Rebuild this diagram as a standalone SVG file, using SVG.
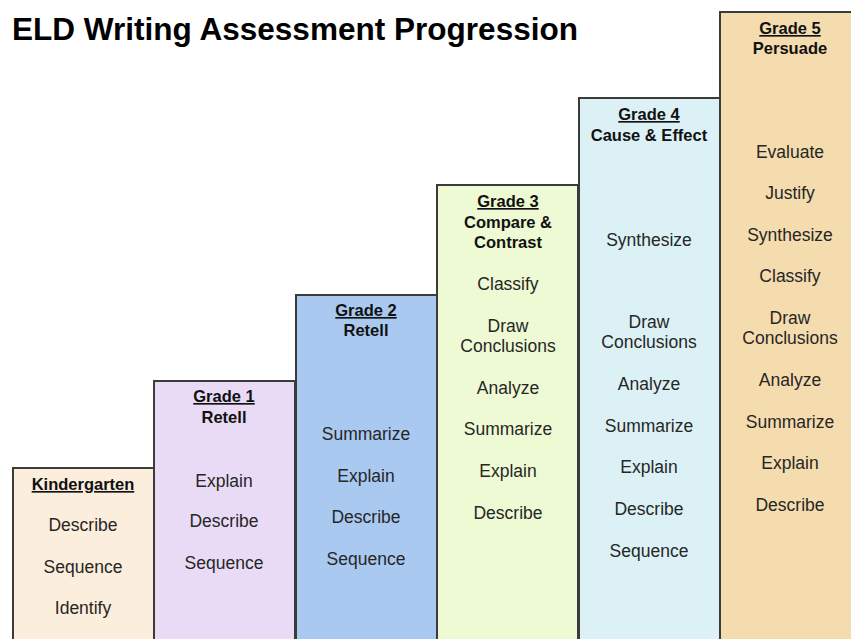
<svg xmlns="http://www.w3.org/2000/svg" width="851" height="639" viewBox="0 0 851 639">
<style>
.box{stroke:#3b3b3b;stroke-width:2}
text{font-family:"Liberation Sans",Arial,sans-serif;fill:#262626;text-anchor:middle}
.h{font-weight:bold;font-size:16.5px;fill:#111}
.u{text-decoration:underline}
.t{font-size:17.5px}
</style>
<rect width="851" height="639" fill="#ffffff"/>
<text x="12" y="40" style="text-anchor:start;font-weight:bold;font-size:32px;fill:#000" textLength="566" lengthAdjust="spacingAndGlyphs">ELD Writing Assessment Progression</text>
<g id="kindergarten">
<rect class="box" x="13" y="468" width="141" height="190" fill="#fbeedc"/>
<text class="h u" x="83" y="490">Kindergarten</text>
<text class="t" x="83" y="531">Describe</text>
<text class="t" x="83" y="573">Sequence</text>
<text class="t" x="83" y="614">Identify</text>
</g>
<g id="grade1">
<rect class="box" x="154" y="381" width="141" height="280" fill="#e9dbf6"/>
<text class="h u" x="224" y="402">Grade 1</text>
<text class="h" x="224" y="423">Retell</text>
<text class="t" x="224" y="487">Explain</text>
<text class="t" x="224" y="527">Describe</text>
<text class="t" x="224" y="569">Sequence</text>
</g>
<g id="grade2">
<rect class="box" x="296" y="295" width="141" height="370" fill="#a9c9f1"/>
<text class="h u" x="366" y="316">Grade 2</text>
<text class="h" x="366" y="336">Retell</text>
<text class="t" x="366" y="440">Summarize</text>
<text class="t" x="366" y="482">Explain</text>
<text class="t" x="366" y="523">Describe</text>
<text class="t" x="366" y="565">Sequence</text>
</g>
<g id="grade3">
<rect class="box" x="437" y="185" width="141" height="480" fill="#eefad3"/>
<text class="h u" x="508" y="207">Grade 3</text>
<text class="h" x="508" y="228">Compare &amp;</text>
<text class="h" x="508" y="248">Contrast</text>
<text class="t" x="508" y="290">Classify</text>
<text class="t" x="508" y="332">Draw</text>
<text class="t" x="508" y="352">Conclusions</text>
<text class="t" x="508" y="394">Analyze</text>
<text class="t" x="508" y="435">Summarize</text>
<text class="t" x="508" y="477">Explain</text>
<text class="t" x="508" y="519">Describe</text>
</g>
<g id="grade4">
<rect class="box" x="579" y="98" width="141" height="560" fill="#dcf1f5"/>
<text class="h u" x="649" y="120">Grade 4</text>
<text class="h" x="649" y="141">Cause &amp; Effect</text>
<text class="t" x="649" y="246">Synthesize</text>
<text class="t" x="649" y="328">Draw</text>
<text class="t" x="649" y="348">Conclusions</text>
<text class="t" x="649" y="390">Analyze</text>
<text class="t" x="649" y="432">Summarize</text>
<text class="t" x="649" y="473">Explain</text>
<text class="t" x="649" y="515">Describe</text>
<text class="t" x="649" y="557">Sequence</text>
</g>
<g id="grade5">
<rect class="box" x="720" y="12" width="150" height="650" fill="#f5dcae"/>
<text class="h u" x="790" y="34">Grade 5</text>
<text class="h" x="790" y="54">Persuade</text>
<text class="t" x="790" y="158">Evaluate</text>
<text class="t" x="790" y="199">Justify</text>
<text class="t" x="790" y="241">Synthesize</text>
<text class="t" x="790" y="282">Classify</text>
<text class="t" x="790" y="324">Draw</text>
<text class="t" x="790" y="344">Conclusions</text>
<text class="t" x="790" y="386">Analyze</text>
<text class="t" x="790" y="428">Summarize</text>
<text class="t" x="790" y="469">Explain</text>
<text class="t" x="790" y="511">Describe</text>
</g>
<g id="connectors"></g>
</svg>
